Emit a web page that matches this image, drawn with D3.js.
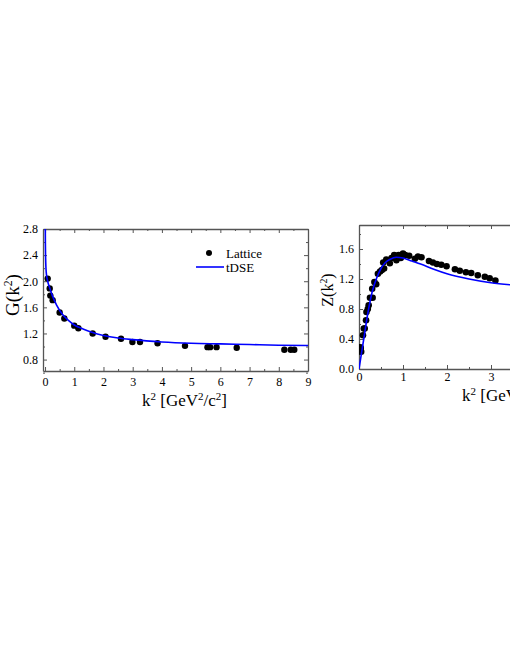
<!DOCTYPE html>
<html>
<head>
<meta charset="utf-8">
<script src="https://cdn.jsdelivr.net/npm/d3@7"></script>
<style>
  body { margin: 0; background: #fff; }
  svg { display: block; font-family: "Liberation Serif", "Times New Roman", serif; }
</style>
</head>
<body>
<svg id="chart" width="510" height="660"></svg>
<script>
// left panel: ghost dressing G(k^2)
const gLatK = [0.09, 0.16, 0.18, 0.26, 0.50, 0.66, 1.00, 1.14, 1.63, 2.07, 2.60, 2.99, 3.25, 3.85, 4.79, 5.56, 5.65, 5.87, 6.56, 8.19, 8.41, 8.53];
const gLatV = [2.04, 1.89, 1.78, 1.71, 1.52, 1.43, 1.32, 1.28, 1.20, 1.15, 1.12, 1.07, 1.07, 1.05, 1.01, 0.99, 0.99, 0.99, 0.98, 0.95, 0.95, 0.95];
const gDseK = [0.003, 0.01, 0.02, 0.04, 0.08, 0.15, 0.25, 0.4, 0.6, 0.8, 1.0, 1.3, 1.6, 2.0, 2.5, 3.0, 4, 5, 6, 7, 8, 9];
const gDseV = [3.6, 2.7, 2.35, 2.14, 2.02, 1.91, 1.78, 1.63, 1.49, 1.40, 1.33, 1.27, 1.22, 1.17, 1.13, 1.105, 1.07, 1.05, 1.04, 1.03, 1.02, 1.015];
const gXTicks = [0, 1, 2, 3, 4, 5, 6, 7, 8, 9];
const gYTicks = [0.8, 1.2, 1.6, 2.0, 2.4, 2.8];

// right panel: gluon dressing Z(k^2)
const zLatK = [0.02, 0.03, 0.05, 0.04, 0.09, 0.11, 0.13, 0.16, 0.17, 0.20, 0.22, 0.25, 0.31, 0.30, 0.35, 0.39, 0.43, 0.48, 0.52, 0.57, 0.55, 0.62, 0.70, 0.74, 0.80, 0.85, 0.90, 0.95, 1.00, 1.05, 1.14, 1.27, 1.34, 1.42, 1.59, 1.68, 1.77, 1.87, 1.99, 2.18, 2.29, 2.43, 2.55, 2.70, 2.86, 2.97, 3.10];
const zLatV = [0.24, 0.29, 0.23, 0.28, 0.45, 0.54, 0.54, 0.65, 0.76, 0.80, 0.85, 0.95, 0.95, 1.07, 1.16, 1.13, 1.27, 1.30, 1.32, 1.34, 1.42, 1.46, 1.41, 1.48, 1.52, 1.45, 1.52, 1.48, 1.54, 1.52, 1.51, 1.47, 1.50, 1.49, 1.44, 1.42, 1.40, 1.39, 1.37, 1.33, 1.31, 1.29, 1.28, 1.25, 1.23, 1.21, 1.18];
const zDseK = [0, 0.1, 0.2, 0.3, 0.4, 0.5, 0.6, 0.7, 0.85, 1.0, 1.2, 1.4, 1.7, 2.0, 2.5, 3.0, 3.5, 4, 5, 6];
const zDseV = [0, 0.37, 0.74, 1.03, 1.21, 1.34, 1.42, 1.46, 1.49, 1.48, 1.44, 1.40, 1.33, 1.27, 1.20, 1.15, 1.12, 1.10, 1.07, 1.05];
const zXTicks = [0, 1, 2, 3];
const zYTicks = [0.0, 0.4, 0.8, 1.2, 1.6];

const svg = d3.select('#chart');
const axisColor = '#555';
const blue = '#0000ff';

function framePanel(x, y, xTicks, yTicks, xMinor, yMinor, pad, id) {
  const [x0, x1] = x.range();
  const [y0, y1] = y.range();
  const g = svg.append('g');

  // minor ticks on all four sides
  const minors = [
    [d3.axisBottom(x).tickValues(xMinor), `translate(0,${y0})`],
    [d3.axisTop(x).tickValues(xMinor), `translate(0,${y1})`],
    [d3.axisLeft(y).tickValues(yMinor), `translate(${x0},0)`],
    [d3.axisRight(y).tickValues(yMinor), `translate(${x1},0)`]
  ];
  minors.forEach(([axis, tr]) => {
    g.append('g').attr('transform', tr)
      .call(axis.tickFormat('').tickSize(-2).tickSizeOuter(0))
      .call(s => s.select('.domain').remove())
      .call(s => s.selectAll('line').attr('stroke', axisColor));
  });

  // major ticks, labels on bottom and left
  const bottom = g.append('g').attr('transform', `translate(0,${y0})`)
    .call(d3.axisBottom(x).tickValues(xTicks).tickFormat(d3.format('d')).tickSize(-4).tickSizeOuter(0).tickPadding(pad));
  const top = g.append('g').attr('transform', `translate(0,${y1})`)
    .call(d3.axisTop(x).tickValues(xTicks).tickFormat('').tickSize(-4).tickSizeOuter(0));
  const left = g.append('g').attr('transform', `translate(${x0},0)`)
    .call(d3.axisLeft(y).tickValues(yTicks).tickFormat(d3.format('.1f')).tickSize(-4).tickSizeOuter(0).tickPadding(5));
  const right = g.append('g').attr('transform', `translate(${x1},0)`)
    .call(d3.axisRight(y).tickValues(yTicks).tickFormat('').tickSize(-4).tickSizeOuter(0));
  [bottom, top, left, right].forEach(a => {
    a.select('.domain').attr('stroke', axisColor).attr('stroke-width', 1.3);
    a.selectAll('line').attr('stroke', axisColor);
    a.selectAll('text').attr('fill', '#000').attr('font-size', 12)
      .attr('font-family', '"Liberation Serif", serif');
  });

  svg.append('clipPath').attr('id', id).append('rect')
    .attr('x', x0).attr('y', y1).attr('width', x1 - x0).attr('height', y0 - y1);
}

const kLabel = (x, y) => {
  const t = svg.append('text').attr('x', x).attr('y', y).attr('font-size', 17);
  t.append('tspan').text('k');
  t.append('tspan').attr('dy', -6).attr('font-size', 11).text('2');
  t.append('tspan').attr('dy', 6).text(' [GeV');
  t.append('tspan').attr('dy', -6).attr('font-size', 11).text('2');
  t.append('tspan').attr('dy', 6).text('/c');
  t.append('tspan').attr('dy', -6).attr('font-size', 11).text('2');
  t.append('tspan').attr('dy', 6).text(']');
};

const yLabel = (x, y, letter, size) => {
  const t = svg.append('text').attr('transform', `translate(${x},${y}) rotate(-90)`)
    .attr('text-anchor', 'middle').attr('font-size', size);
  t.append('tspan').text(letter + '(k');
  t.append('tspan').attr('dy', -size * 0.38).attr('font-size', size * 0.62).text('2');
  t.append('tspan').attr('dy', size * 0.38).text(')');
};

// ---------- left panel ----------
const xG = d3.scaleLinear().domain([-0.07, 9]).range([43, 308]);
const yG = d3.scaleLinear().domain([0.625, 2.8]).range([371, 229]);
framePanel(xG, yG, gXTicks, gYTicks, d3.range(0.5, 9, 1), d3.range(0.6, 2.8, 0.4), 6, 'clipG');

svg.append('g').attr('clip-path', 'url(#clipG)')
  .selectAll('circle').data(gLatK).join('circle')
  .attr('cx', d => xG(d)).attr('cy', (d, i) => yG(gLatV[i])).attr('r', 3.2).attr('fill', '#000');

const lineG = d3.line().x(d => xG(d[0])).y(d => yG(d[1])).curve(d3.curveMonotoneX);
svg.append('path').attr('clip-path', 'url(#clipG)')
  .datum(d3.zip(gDseK, gDseV))
  .attr('d', lineG).attr('fill', 'none').attr('stroke', blue).attr('stroke-width', 1.6);

// legend
svg.append('circle').attr('cx', 209).attr('cy', 253).attr('r', 3).attr('fill', '#000');
svg.append('text').attr('x', 226).attr('y', 257.5).attr('font-size', 13).text('Lattice');
svg.append('line').attr('x1', 196).attr('x2', 224).attr('y1', 267).attr('y2', 267)
  .attr('stroke', blue).attr('stroke-width', 1.6);
svg.append('text').attr('x', 226).attr('y', 271.5).attr('font-size', 13).text('tDSE');

kLabel(142, 406);
yLabel(19, 295, 'G', 19);

// ---------- right panel ----------
const xZ = d3.scaleLinear().domain([0, 6]).range([359, 623]);
const yZ = d3.scaleLinear().domain([0, 1.92]).range([369, 225]);
framePanel(xZ, yZ, zXTicks, zYTicks, d3.range(0.5, 6, 1), d3.range(0.2, 1.9, 0.4), 3, 'clipZ');

svg.append('g').attr('clip-path', 'url(#clipZ)')
  .selectAll('circle').data(zLatK).join('circle')
  .attr('cx', d => xZ(d)).attr('cy', (d, i) => yZ(zLatV[i])).attr('r', 3.3).attr('fill', '#000');

const lineZ = d3.line().x(d => xZ(d[0])).y(d => yZ(d[1])).curve(d3.curveMonotoneX);
svg.append('path').attr('clip-path', 'url(#clipZ)')
  .datum(d3.zip(zDseK, zDseV))
  .attr('d', lineZ).attr('fill', 'none').attr('stroke', blue).attr('stroke-width', 1.6);

kLabel(462, 401);
yLabel(333, 290, 'Z', 16);
</script>
</body>
</html>
